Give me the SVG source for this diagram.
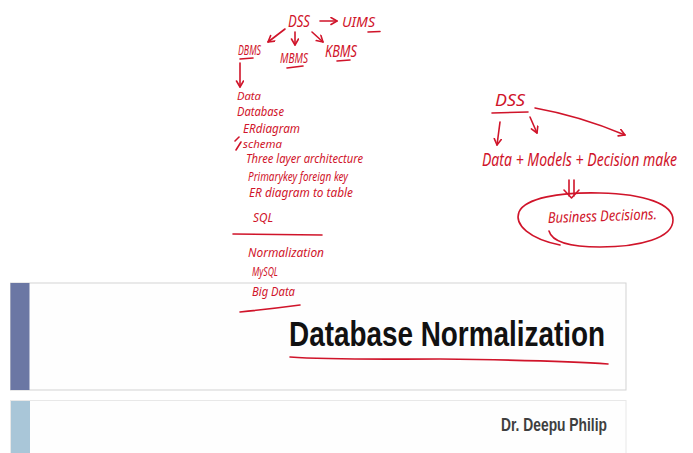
<svg xmlns="http://www.w3.org/2000/svg" width="693" height="453" viewBox="0 0 693 453">
<style>
.hw{font-family:"Noto Sans","DejaVu Sans",sans-serif;fill:#d0142a;font-style:italic}
.ink{fill:none;stroke:#d0142a;stroke-width:1.6;stroke-linecap:round;stroke-linejoin:round}
.title{font-family:"Liberation Sans",Arial,sans-serif;font-weight:bold;fill:#111}
</style>
<defs>
<marker id="arr" markerWidth="10" markerHeight="10" refX="7" refY="4" orient="auto" markerUnits="userSpaceOnUse">
<path d="M1,0.5 L7,4 L1,7.5" fill="none" stroke="#d0142a" stroke-width="1.6" stroke-linecap="round" stroke-linejoin="round"/>
</marker>
</defs>
<rect width="693" height="453" fill="#ffffff"/>

<g id="slide-title">
<rect x="10.5" y="283" width="615.5" height="107" fill="#fefefe" stroke="#d3d3d3"/>
<rect x="10.5" y="283" width="19" height="107" fill="#6b77a4"/>
<text class="title" x="289" y="346" font-size="35" textLength="316" lengthAdjust="spacingAndGlyphs">Database Normalization</text>
<path class="ink" d="M290,357 C330,360 380,359 440,359 C520,360 570,361 608,364"/>
</g>
<g id="slide-author">
<rect x="10.5" y="400.5" width="615.5" height="60" fill="#fefefe" stroke="#e8e8e8"/>
<rect x="11" y="401" width="19" height="52" fill="#a9c6d8"/>
<text class="title" x="501" y="431" font-size="19" style="fill:#3f3f3f" textLength="106" lengthAdjust="spacingAndGlyphs">Dr. Deepu Philip</text>
</g>

<g id="n-dss"><text class="hw" x="288" y="27" font-size="16" textLength="22" lengthAdjust="spacingAndGlyphs">DSS</text></g>
<g id="n-uims"><text class="hw" x="342" y="27" font-size="14" textLength="33" lengthAdjust="spacingAndGlyphs">UIMS</text>
<path class="ink" d="M368,32 L380,31.5"/></g>
<g id="n-dbms"><text class="hw" x="238" y="55" font-size="14" textLength="23" lengthAdjust="spacingAndGlyphs">DBMS</text>
<path class="ink" d="M240,59 L253,58"/></g>
<g id="n-mbms"><text class="hw" x="280" y="63" font-size="15" textLength="28" lengthAdjust="spacingAndGlyphs">MBMS</text>
<path class="ink" d="M287,68 L303,66"/></g>
<g id="n-kbms"><text class="hw" x="325" y="57" font-size="16" textLength="32" lengthAdjust="spacingAndGlyphs">KBMS</text>
<path class="ink" d="M337,61 L350,60"/></g>

<g id="n-list">
<text class="hw" x="237" y="100" font-size="11" textLength="24" lengthAdjust="spacingAndGlyphs">Data</text>
<text class="hw" x="237" y="116" font-size="12" textLength="47" lengthAdjust="spacingAndGlyphs">Database</text>
<text class="hw" x="243" y="133" font-size="12" textLength="57" lengthAdjust="spacingAndGlyphs">ERdiagram</text>
<path class="ink" d="M235,141 L239,137"/>
<path class="ink" d="M236,150 L241,142"/>
<text class="hw" x="243" y="148" font-size="11" textLength="39" lengthAdjust="spacingAndGlyphs">schema</text>
<text class="hw" x="246" y="163" font-size="12" textLength="117" lengthAdjust="spacingAndGlyphs">Three layer architecture</text>
<text class="hw" x="248" y="181" font-size="12" textLength="100" lengthAdjust="spacingAndGlyphs">Primarykey foreign key</text>
<text class="hw" x="249" y="197" font-size="12" textLength="104" lengthAdjust="spacingAndGlyphs">ER diagram to table</text>
<text class="hw" x="253" y="222" font-size="12" textLength="20" lengthAdjust="spacingAndGlyphs">SQL</text>
<path class="ink" d="M233,234 L322,235"/>
<text class="hw" x="248" y="257" font-size="12" textLength="76" lengthAdjust="spacingAndGlyphs">Normalization</text>
<text class="hw" x="252" y="276" font-size="13" textLength="26" lengthAdjust="spacingAndGlyphs">MySQL</text>
<text class="hw" x="252" y="296" font-size="13" textLength="43" lengthAdjust="spacingAndGlyphs">Big Data</text>
<path class="ink" d="M240,312 Q270,309 300,305"/>
</g>

<g id="n-dss2"><text class="hw" x="495" y="106" font-size="17" textLength="30" lengthAdjust="spacingAndGlyphs">DSS</text>
<path class="ink" d="M492,113 L528,112"/></g>
<g id="n-dmd"><text class="hw" x="0" y="0" font-size="19" transform="translate(482 166) scale(0.74 1)">Data + Models + Decision make</text></g>
<g id="n-business"><text class="hw" x="548" y="223" font-size="15" textLength="109" lengthAdjust="spacingAndGlyphs" transform="rotate(-2 548 223)">Business Decisions.</text>
<path class="ink" d="M549,231 C552,242 570,247 600,247 C640,247 673,238 673,220 C673,204 645,194 600,193 C560,192 525,198 519,212 C514,225 530,239 560,245"/></g>

<g id="connectors">
<path class="ink" d="M320,21 L337,21" marker-end="url(#arr)"/>
<path class="ink" d="M285,29 L268,42" marker-end="url(#arr)"/>
<path class="ink" d="M295,32 L295,45" marker-end="url(#arr)"/>
<path class="ink" d="M312,32 L323,42" marker-end="url(#arr)"/>
<path class="ink" d="M240,63 L240,87" marker-end="url(#arr)"/>
<path class="ink" d="M500,122 L497,145" marker-end="url(#arr)"/>
<path class="ink" d="M530,117 L537,133" marker-end="url(#arr)"/>
<path class="ink" d="M535,108 Q580,116 625,135" marker-end="url(#arr)"/>
<path class="ink" d="M569,180 L569,196 M574,180 L574,196 M564,190 L571.5,198 L579,190"/>
</g>
</svg>
